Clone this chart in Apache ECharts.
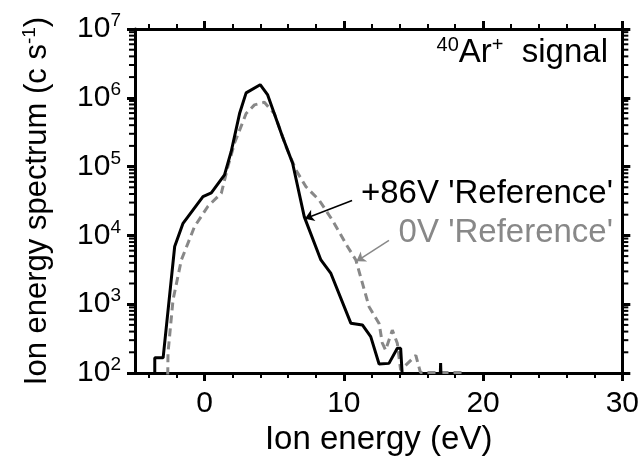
<!DOCTYPE html>
<html>
<head>
<meta charset="utf-8">
<script src="https://cdn.jsdelivr.net/npm/echarts@6/dist/echarts.min.js"></script>
<style>
  html, body { margin: 0; padding: 0; background: #fff; }
  #chart { width: 642px; height: 463px; }
</style>
</head>
<body>
<div id="chart"></div>
<script>
// ion energy (eV) vs signal (c/s)
// values below 1e2 just run the line off the bottom of the plot
const plus86Ref = [
  [-3.58, 60], [-3.58, 166], [-2.98, 166], [-2.15, 6900], [-1.55, 15000],
  [-0.12, 36500], [0.48, 41500], [1.43, 76000], [1.91, 166000], [2.51, 590000],
  [2.98, 1180000], [3.99, 1550000], [4.53, 1100000], [5.60, 270000], [6.32, 112000],
  [7.16, 18600], [8.35, 4400], [9.07, 2800], [10.50, 530], [11.33, 500],
  [11.93, 338], [12.53, 135], [13.24, 138], [13.84, 229], [14.08, 229],
  [14.25, 60], [16.9, 60], [16.95, 140], [17.0, 60]
];
const zeroRef = [
  [-2.66, 60], [-2.63, 195], [-2.27, 1150], [-1.67, 4400], [-0.72, 13500],
  [0.24, 26500], [1.20, 41000], [1.67, 100000], [2.15, 220000], [2.98, 590000],
  [3.58, 790000], [4.29, 860000], [5.01, 590000], [5.85, 195000], [6.56, 89000],
  [7.28, 51000], [8.23, 32500], [9.18, 16600], [10.26, 6900], [10.86, 4400],
  [11.81, 920], [12.53, 525], [12.76, 275], [13.0, 215], [13.48, 420],
  [13.84, 270], [14.08, 110], [15.17, 180], [15.5, 102], [18.6, 102], [18.9, 60]
];

const xMin = -5, xMax = 30;
const yMin = 1e2, yMax = 1e7;
const xMajorTicks = [0, 10, 20, 30];
const xMinorTicks = [-4, -2, 2, 4, 6, 8, 12, 14, 16, 18, 22, 24, 26, 28];
const yMinorTicks = [];
for (let k = 2; k < 7; k++) {
  for (let m = 2; m <= 9; m++) yMinorTicks.push(m * Math.pow(10, k));
}

// annotation arrows: [from, to] in data coords
const arrowPlus86 = [[10.59, 32100], [7.2, 17500]];
const arrowZero = [[13.24, 8500], [10.9, 4200]];

const FONT = '"Liberation Sans", Arial, sans-serif';
const chart = echarts.init(document.getElementById('chart'));

function xAxisDef(pos, ticks, len, width, line) {
  return {
    type: 'value', position: pos, min: xMin, max: xMax,
    axisLine: { show: line, onZero: false, lineStyle: { color: '#000', width: 3 } },
    axisTick: { show: true, customValues: ticks, length: len, lineStyle: { color: '#000', width: width } },
    axisLabel: { show: false },
    splitLine: { show: false }
  };
}

const bottomMain = xAxisDef('bottom', xMajorTicks, 8, 3, true);
bottomMain.axisLabel = {
  show: true, customValues: xMajorTicks, fontSize: 30, color: '#000',
  fontFamily: FONT, margin: 16
};
bottomMain.name = 'Ion energy (eV)';
bottomMain.nameLocation = 'middle';
bottomMain.nameGap = 46;
bottomMain.nameTextStyle = { fontSize: 33, color: '#000', fontFamily: FONT };

chart.setOption({
  animation: false,
  backgroundColor: '#fff',
  grid: { left: 135, right: 18, top: 29, bottom: 90 },
  xAxis: [
    bottomMain,
    xAxisDef('bottom', xMinorTicks, 5, 2, false),
    xAxisDef('top', xMajorTicks, 8, 3, true),
    xAxisDef('top', xMinorTicks, 5, 2, false)
  ],
  yAxis: [
    {
      type: 'log', logBase: 10, min: yMin, max: yMax, position: 'left',
      axisLine: { show: true, onZero: false, lineStyle: { color: '#000', width: 3 } },
      axisTick: { show: true, length: 8, lineStyle: { color: '#000', width: 3 } },
      axisLabel: {
        fontSize: 30, color: '#000', fontFamily: FONT, margin: 14,
        showMinLabel: true, showMaxLabel: true,
        formatter: v => '10{s|' + Math.round(Math.log10(v)) + '}',
        rich: { s: { fontSize: 19, color: '#000', fontFamily: FONT, padding: [0, 0, 16, 0] } }
      },
      splitLine: { show: false },
      name: 'Ion energy spectrum (c s{s|-1})',
      nameLocation: 'middle',
      nameGap: 80,
      nameTextStyle: {
        fontSize: 31, color: '#000', fontFamily: FONT,
        rich: { s: { fontSize: 19, color: '#000', fontFamily: FONT, padding: [0, 0, 16, 0] } }
      }
    },
    {
      type: 'log', logBase: 10, min: yMin, max: yMax, position: 'right',
      axisLine: { show: true, onZero: false, lineStyle: { color: '#000', width: 3 } },
      axisTick: { show: true, length: 8, lineStyle: { color: '#000', width: 3 } },
      axisLabel: { show: false },
      splitLine: { show: false }
    }
  ],
  series: [
    {
      name: "0V 'Reference'", type: 'line', data: zeroRef, showSymbol: false,
      lineStyle: { color: '#888', width: 3, type: [8, 5] }, z: 3,
      markLine: {
        silent: true, symbol: ['none', 'arrow'], symbolSize: 9,
        label: { show: false },
        lineStyle: { color: '#888', width: 1.5, type: 'solid' },
        data: [[{ coord: arrowZero[0] }, { coord: arrowZero[1] }]]
      }
    },
    {
      name: "+86V 'Reference'", type: 'line', data: plus86Ref, showSymbol: false,
      lineStyle: { color: '#000', width: 3 }, z: 4,
      markLine: {
        silent: true, symbol: ['none', 'arrow'], symbolSize: 9,
        label: { show: false },
        lineStyle: { color: '#000', width: 1.5, type: 'solid' },
        data: [[{ coord: arrowPlus86[0] }, { coord: arrowPlus86[1] }]]
      }
    },
    {
      // minor log ticks on the left and right frame
      type: 'custom', silent: true, clip: false, z: 5,
      data: yMinorTicks.map(v => [xMin, v]),
      renderItem: function (params, api) {
        const v = api.value(1);
        const l = api.coord([xMin, v]);
        const r = api.coord([xMax, v]);
        return {
          type: 'group',
          children: [
            { type: 'line', shape: { x1: l[0] - 6, y1: l[1], x2: l[0], y2: l[1] }, style: { stroke: '#000', lineWidth: 2 } },
            { type: 'line', shape: { x1: r[0], y1: r[1], x2: r[0] + 6, y2: r[1] }, style: { stroke: '#000', lineWidth: 2 } }
          ]
        };
      }
    }
  ],
  graphic: [
    {
      type: 'text', right: 34, top: 35,
      style: {
        text: '{s|40}Ar{s|+}  signal', fontSize: 33, fill: '#000', fontFamily: FONT,
        rich: { s: { fontSize: 20, fill: '#000', fontFamily: FONT, padding: [0, 0, 16, 0] } }
      }
    },
    {
      type: 'text', right: 29, top: 177,
      style: { text: "+86V 'Reference'", fontSize: 33, fill: '#000', fontFamily: FONT }
    },
    {
      type: 'text', right: 29, top: 216,
      style: { text: "0V 'Reference'", fontSize: 33, fill: '#888', fontFamily: FONT }
    }
  ]
});
</script>
</body>
</html>
